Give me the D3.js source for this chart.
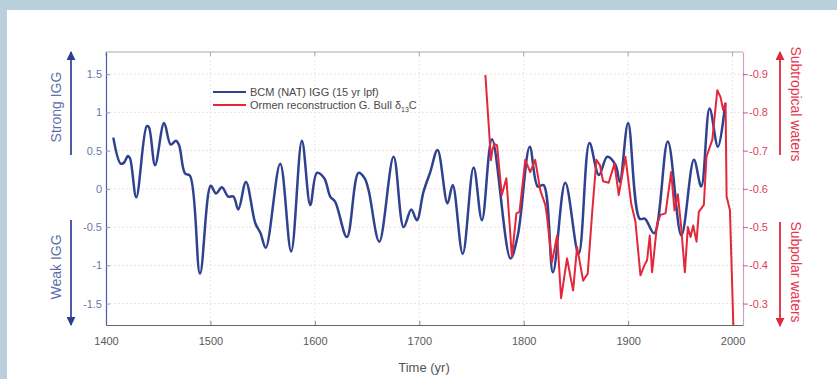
<!DOCTYPE html>
<html><head><meta charset="utf-8">
<script src="https://cdn.jsdelivr.net/npm/d3@7"></script>
<style>body{margin:0;background:#b9cfdc;}svg{display:block;}</style>
</head><body>
<script>
// ---- data ----
const yearTicks = [1400,1500,1600,1700,1800,1900,2000];
const iggTicks = [-1.5,-1,-0.5,0,0.5,1,1.5];
const d13cTicks = [-0.9,-0.8,-0.7,-0.6,-0.5,-0.4,-0.3];
const bcmYears = [1407,1414,1417,1421,1423,1429,1439,1441,1447,1455.6,1462,1467,1470,1475.7,1480.5,1490,1500.3,1505.4,1511,1517,1522,1526.7,1534,1543,1548,1553,1566.8,1577.3,1587.6,1595.6,1602,1609,1614.7,1619.5,1630.7,1641.8,1647.6,1651.5,1661.7,1675.4,1685,1692.3,1697.7,1704,1710.5,1717.5,1727,1732,1741.6,1752,1760,1769.6,1787.3,1794.3,1805.8,1813.5,1819,1828,1839.8,1852.6,1863,1872,1880,1888,1892,1900,1911,1916,1925,1938,1951,1963,1970,1978,1986,1993];
const bcmIGG = [0.67,0.33,0.34,0.43,0.40,-0.11,0.82,0.81,0.31,0.86,0.58,0.63,0.57,0.20,0.17,-1.11,0.04,-0.06,0.02,-0.10,-0.10,-0.27,0.09,-0.45,-0.58,-0.77,0.33,-0.82,0.63,-0.21,0.21,0.14,-0.10,-0.17,-0.63,0.21,0.14,-0.02,-0.69,0.42,-0.50,-0.27,-0.41,-0.04,0.22,0.51,-0.19,0.05,-0.85,0.28,-0.41,0.65,-0.91,-0.61,0.55,0.03,0.05,-1.09,0.08,-0.85,0.60,0.18,0.42,0.31,0.09,0.86,-0.39,-0.39,-0.58,0.62,-0.61,0.38,0.03,1.05,0.55,1.12];
const ormenYears = [1763.3,1768.7,1770,1772,1774.5,1779,1783.4,1788.7,1793,1796,1801.5,1806.2,1811,1815.9,1820.7,1822.4,1827,1832,1835.8,1841.5,1847.3,1851.1,1856.9,1861.3,1865.5,1869.6,1873,1876,1881.4,1886.9,1891,1897.4,1902.9,1907,1911.8,1915.6,1918.2,1920.7,1923,1927.8,1931,1935.8,1941.2,1944.4,1947.6,1950.8,1954.3,1957.2,1959.8,1962.3,1965.5,1967.7,1972.5,1975,1980.6,1985.4,1988.5,1991,1993.3,1994.3,1997.5,2001];
const ormenD13C = [-0.898,-0.675,-0.702,-0.718,-0.714,-0.584,-0.628,-0.422,-0.536,-0.54,-0.676,-0.644,-0.676,-0.596,-0.558,-0.526,-0.408,-0.478,-0.314,-0.418,-0.334,-0.448,-0.36,-0.378,-0.536,-0.676,-0.662,-0.62,-0.616,-0.666,-0.584,-0.684,-0.562,-0.514,-0.374,-0.40,-0.414,-0.478,-0.382,-0.51,-0.532,-0.536,-0.644,-0.544,-0.586,-0.50,-0.382,-0.50,-0.474,-0.504,-0.462,-0.54,-0.558,-0.684,-0.728,-0.858,-0.84,-0.806,-0.824,-0.58,-0.544,-0.22];
const legendLabels = ["BCM (NAT) IGG (15 yr lpf)", "Ormen reconstruction G. Bull δ"];

// ---- layout ----
const W = 837, H = 379;
const L = 106, R = 743, T = 52, B = 325;
const svg = d3.select("body").append("svg").attr("width", W).attr("height", H);
svg.append("rect").attr("x",7).attr("y",10).attr("width",W-7).attr("height",H-10).attr("fill","#ffffff");

const x = d3.scaleLinear().domain([1400, 2010]).range([L, R]);
const yL = d3.scaleLinear().domain([-1.78, 1.79]).range([B, T]);
const yR = d3.scaleLinear().domain([-0.244, -0.958]).range([B, T]);

const font = "'Liberation Sans', Arial, sans-serif";
const blue = "#2f428f", red = "#e2283a";

// grid
const g = svg.append("g");
g.selectAll("line.h").data(iggTicks).join("line")
  .attr("x1", L).attr("x2", R).attr("y1", d=>yL(d)).attr("y2", d=>yL(d))
  .attr("stroke","#f2c4c4").attr("stroke-width",0.8).attr("stroke-dasharray","1.5,2.5");
g.selectAll("line.v").data(yearTicks.slice(1)).join("line")
  .attr("x1", d=>x(d)).attr("x2", d=>x(d)).attr("y1", T).attr("y2", B)
  .attr("stroke","#d8d8d8").attr("stroke-width",0.8).attr("stroke-dasharray","1.5,2.5");

// top border with ticks
svg.append("line").attr("x1",L).attr("x2",R).attr("y1",T).attr("y2",T).attr("stroke","#a8a8a8").attr("stroke-width",1.2);
svg.selectAll("line.tt").data(yearTicks).join("line").attr("x1",d=>x(d)).attr("x2",d=>x(d)).attr("y1",T).attr("y2",T+4).attr("stroke","#a8a8a8");

// bottom axis
const xAxis = d3.axisBottom(x).tickValues(yearTicks).tickFormat(d3.format("d")).tickSizeInner(-4).tickSizeOuter(0).tickPadding(12);
const gx = svg.append("g").attr("transform",`translate(0,${B})`).call(xAxis);
gx.select(".domain").attr("stroke","#666").attr("stroke-width",1.2);
gx.selectAll(".tick line").attr("stroke","#888");
gx.selectAll("text").attr("fill","#5a5a5a").attr("font-family",font).attr("font-size",11);

// left axis
const yAxisL = d3.axisLeft(yL).tickValues(iggTicks).tickFormat(d=>d3.format("")(d).replace("−","-")).tickSizeInner(-4).tickSizeOuter(0).tickPadding(4);
const gyl = svg.append("g").attr("transform",`translate(${L},0)`).call(yAxisL);
gyl.select(".domain").attr("stroke","#4a5ca8").attr("stroke-width",1.2);
gyl.selectAll(".tick line").attr("stroke","#8a96c8");
gyl.selectAll("text").attr("fill","#6a78b0").attr("font-family",font).attr("font-size",11);

// right axis
const yAxisR = d3.axisRight(yR).tickValues(d13cTicks).tickFormat(d=>d3.format(".1f")(d).replace("−","-")).tickSizeInner(5).tickSizeOuter(0).tickPadding(1);
const gyr = svg.append("g").attr("transform",`translate(${R},0)`).call(yAxisR);
gyr.select(".domain").attr("stroke","#c9a3c4").attr("stroke-width",1.2);
gyr.selectAll(".tick line").attr("stroke","#b06a90");
gyr.selectAll("text").attr("fill","#e0405a").attr("font-family",font).attr("font-size",11);

// clip
svg.append("clipPath").attr("id","clip").append("rect").attr("x",L).attr("y",T).attr("width",R-L).attr("height",B-T);

// BCM line
const bcm = bcmYears.map((yr,i)=>[yr,bcmIGG[i]]);
svg.append("path").attr("clip-path","url(#clip)").datum(bcm)
  .attr("d", d3.line().x(d=>x(d[0])).y(d=>yL(d[1])).curve(d3.curveCatmullRom.alpha(0.5)))
  .attr("fill","none").attr("stroke",blue).attr("stroke-width",2.5).attr("stroke-linejoin","round");

// Ormen line
const orm = ormenYears.map((yr,i)=>[yr,ormenD13C[i]]);
svg.append("path").attr("clip-path","url(#clip)").datum(orm)
  .attr("d", d3.line().x(d=>x(d[0])).y(d=>yR(d[1])))
  .attr("fill","none").attr("stroke",red).attr("stroke-width",2).attr("stroke-linejoin","round");

// legend
const lg = svg.append("g").attr("font-family",font).attr("font-size",11).attr("fill","#4a4a4a");
[[blue,92],[red,105]].forEach(([c,yy],i)=>{
  lg.append("line").attr("x1",213).attr("x2",246).attr("y1",yy).attr("y2",yy).attr("stroke",c).attr("stroke-width",2);
  const t = lg.append("text").attr("x",250).attr("y",yy+4).text(legendLabels[i]);
  if(i===1){
    t.append("tspan").attr("font-size",7).attr("dy",3).text("13");
    t.append("tspan").attr("dy",-3).text("C");
  }
});

// x title
svg.append("text").attr("x",424).attr("y",372).attr("text-anchor","middle")
  .attr("font-family",font).attr("font-size",13).attr("fill","#555").text("Time (yr)");

// arrows and side labels
const defs = svg.append("defs");
function marker(id,col){
  defs.append("marker").attr("id",id).attr("viewBox","0 0 10 10").attr("refX",9).attr("refY",5)
    .attr("markerWidth",5).attr("markerHeight",5).attr("orient","auto")
    .append("path").attr("d","M0,0L10,5L0,10Z").attr("fill",col);
}
marker("ab","#2c3f8e"); marker("ar","#e2283a");
function arrow(xx,y1,y2,id,col){
  svg.append("line").attr("x1",xx).attr("x2",xx).attr("y1",y1).attr("y2",y2)
    .attr("stroke",col).attr("stroke-width",1.8).attr("marker-end",`url(#${id})`);
}
arrow(71,155,52,"ab","#3a4c98");
arrow(71,220,325,"ab","#3a4c98");
arrow(780,155,52,"ar",red);
arrow(780,222,326,"ar",red);

function sideText(xx,yy,rot,txt,col){
  svg.append("text").attr("transform",`translate(${xx},${yy}) rotate(${rot})`)
    .attr("text-anchor","middle").attr("dominant-baseline","central")
    .attr("font-family",font).attr("font-size",14).attr("fill",col).text(txt);
}
sideText(56,107,-90,"Strong IGG","#5f6fab");
sideText(56,267,-90,"Weak IGG","#5f6fab");
sideText(796,104,90,"Subtropical waters","#e3384e");
sideText(796,272,90,"Subpolar waters","#e3384e");
</script>
</body></html>
